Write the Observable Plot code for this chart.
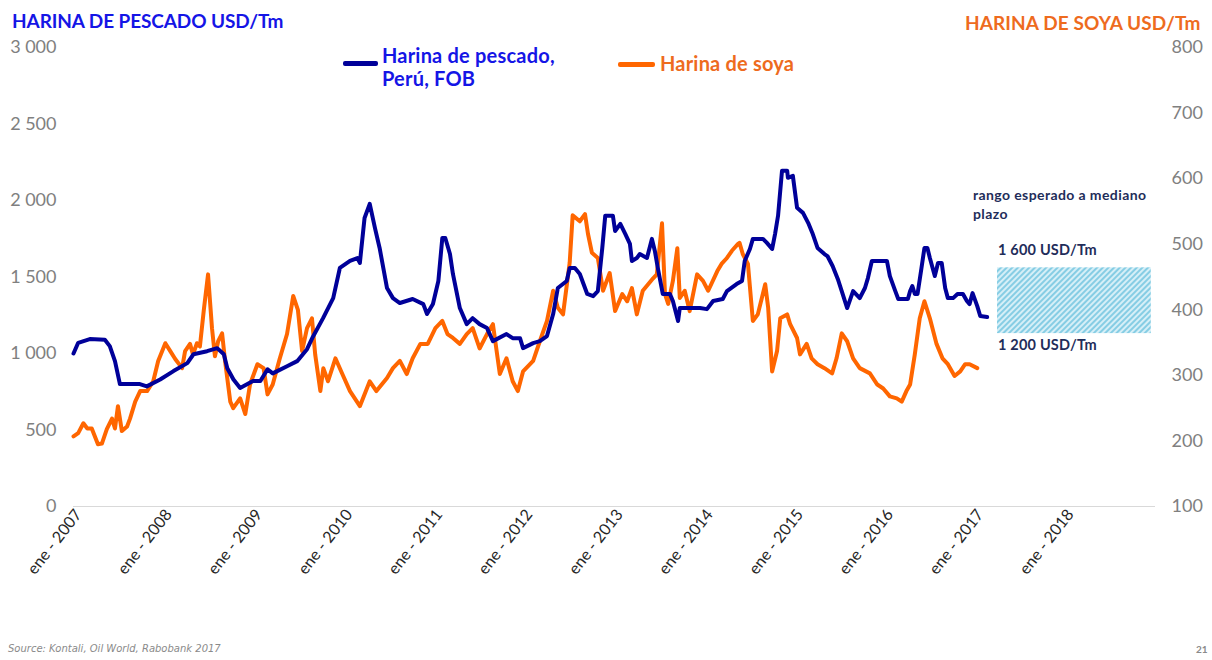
<!DOCTYPE html>
<html><head><meta charset="utf-8">
<script src="https://cdn.jsdelivr.net/npm/d3@7"></script>
<script src="https://cdn.jsdelivr.net/npm/@observablehq/plot@0.6"></script>
<style>
body{margin:0;background:#fff;font-family:Lato,"Open Sans",sans-serif;}
#wrap{position:relative;width:1212px;height:660px;overflow:hidden;background:#fff}
.t{position:absolute;white-space:nowrap;font-weight:bold;line-height:1}
</style></head><body><div id="wrap"><div id="chart"></div>
<div class="t" style="left:12px;top:11px;font-size:19px;letter-spacing:-0.1px;color:#1515E6">HARINA DE PESCADO USD/Tm</div>
<div class="t" style="left:965px;top:13px;font-size:19px;letter-spacing:0.1px;color:#EE6B1E">HARINA DE SOYA USD/Tm</div>
<div class="t" style="left:343px;top:61px;width:35px;height:5px;background:#000099;border-radius:2px"></div>
<div class="t" style="left:382px;top:44px;font-size:20px;line-height:23px;letter-spacing:0.2px;color:#1515E6">Harina de pescado,<br>Perú, FOB</div>
<div class="t" style="left:618px;top:62px;width:37px;height:5px;background:#FF6600;border-radius:2px"></div>
<div class="t" style="left:660px;top:53px;font-size:20px;letter-spacing:0.2px;color:#EE6B1E">Harina de soya</div>
<div class="t" style="left:973px;top:185px;font-size:14px;line-height:19px;letter-spacing:0.4px;color:#1F2D5A">rango esperado a mediano<br>plazo</div>
<div class="t" style="left:998px;top:243px;font-size:14.5px;letter-spacing:0.2px;color:#1F2D5A">1 600 USD/Tm</div>
<div class="t" style="left:998px;top:338px;font-size:14.5px;letter-spacing:0.2px;color:#1F2D5A">1 200 USD/Tm</div>
<div class="t" style="left:8px;top:644px;font-size:10px;font-family:'DejaVu Sans',sans-serif;font-weight:normal;font-style:italic;color:#8a8a8a">Source: Kontali, Oil World, Rabobank 2017</div>
<div class="t" style="left:1196px;top:644px;font-size:10px;color:#8a8a8a">21</div>
</div>
<script>
const fishDates = ["2007-01-01","2007-01-20","2007-03-08","2007-05-08","2007-05-28","2007-06-18","2007-07-08","2007-09-27","2007-10-25","2007-12-18",
"2008-02-10","2008-04-06","2008-05-01","2008-06-25","2008-08-05","2008-09-01","2008-09-15","2008-10-10","2008-11-06","2008-12-28",
"2009-01-27","2009-02-25","2009-03-18","2009-05-15","2009-06-25","2009-08-04","2009-08-28","2009-10-08","2009-11-18","2009-12-15",
"2010-01-25","2010-02-24","2010-03-06","2010-03-25","2010-04-15","2010-05-06","2010-05-25","2010-06-24","2010-07-18","2010-08-15",
"2010-10-06","2010-11-18","2010-12-03","2010-12-27","2011-01-18","2011-02-03","2011-02-15","2011-03-06","2011-03-18","2011-04-15",
"2011-05-13","2011-06-06","2011-07-04","2011-08-03","2011-08-27","2011-10-21","2011-11-15","2011-12-15","2011-12-27","2012-02-06",
"2012-03-04","2012-04-02","2012-04-27","2012-05-16","2012-06-21","2012-07-03","2012-07-24","2012-08-13","2012-09-12","2012-10-06",
"2012-10-25","2012-11-12","2012-11-24","2012-12-25","2013-01-03","2013-01-24","2013-02-13","2013-03-04","2013-03-12","2013-04-01",
"2013-04-13","2013-05-12","2013-06-01","2013-06-13","2013-06-25","2013-07-15","2013-08-13","2013-08-25","2013-09-15","2013-09-22",
"2013-12-13","2014-01-10","2014-02-04","2014-03-15","2014-04-01","2014-05-10","2014-06-01","2014-06-12","2014-07-03","2014-07-15",
"2014-08-25","2014-09-10","2014-10-01","2014-10-13","2014-10-25","2014-11-10","2014-12-01","2014-12-04","2014-12-24","2015-01-10",
"2015-02-03","2015-02-24","2015-03-13","2015-04-03","2015-05-01","2015-05-13","2015-06-03","2015-06-24","2015-07-10","2015-08-01",
"2015-08-25","2015-09-21","2015-10-12","2015-10-24","2015-11-09","2016-01-09","2016-01-21","2016-02-12","2016-02-24","2016-04-03",
"2016-04-12","2016-04-21","2016-05-01","2016-05-12","2016-05-28","2016-06-09","2016-06-21","2016-07-01","2016-07-21","2016-08-03",
"2016-08-18","2016-09-01","2016-09-12","2016-10-03","2016-10-21","2016-11-12","2016-11-28","2016-12-09","2016-12-21","2017-01-09",
"2017-01-21","2017-02-18"];
const fishValues = [1000,1070,1094,1090,1048,950,800,800,785,830,
885,937,995,1015,1035,995,904,830,775,820,
820,897,870,917,950,1028,1110,1231,1362,1559,
1605,1624,1592,1886,1978,1821,1690,1428,1362,1330,
1356,1323,1258,1323,1474,1755,1755,1650,1520,1297,
1192,1231,1192,1166,1081,1127,1100,1100,1035,1068,
1081,1114,1258,1428,1474,1559,1559,1520,1389,1375,
1408,1690,1900,1900,1801,1847,1782,1716,1605,1624,
1650,1624,1749,1670,1559,1389,1389,1343,1212,1297,
1297,1290,1343,1356,1408,1454,1474,1605,1683,1749,
1749,1723,1683,1782,1900,2194,2194,2148,2161,1952,
1919,1854,1788,1690,1650,1637,1572,1487,1408,1297,
1408,1362,1428,1493,1605,1605,1506,1408,1356,1356,
1408,1441,1389,1389,1559,1690,1690,1624,1506,1592,
1592,1428,1362,1362,1389,1389,1343,1323,1395,1310,
1245,1238];

const soyDates = ["2007-01-01","2007-01-20","2007-02-10","2007-02-26","2007-03-16","2007-04-10","2007-04-26","2007-05-16","2007-06-06","2007-06-18",
"2007-06-30","2007-07-16","2007-08-06","2007-08-18","2007-09-08","2007-09-28","2007-10-26","2007-11-20","2007-12-10","2008-01-08",
"2008-01-28","2008-02-17","2008-03-16","2008-03-28","2008-04-17","2008-04-29","2008-05-15","2008-05-27","2008-06-12","2008-06-29",
"2008-07-15","2008-07-27","2008-08-09","2008-08-25","2008-09-06","2008-09-27","2008-10-09","2008-11-06","2008-11-27","2008-12-16",
"2009-01-15","2009-02-09","2009-02-25","2009-03-18","2009-04-15","2009-05-15","2009-06-09","2009-06-28","2009-07-15","2009-08-04",
"2009-08-24","2009-09-06","2009-09-27","2009-10-09","2009-10-28","2009-11-27","2009-12-25","2010-01-25","2010-03-06","2010-04-15",
"2010-05-12","2010-06-24","2010-07-18","2010-08-15","2010-09-12","2010-10-06","2010-11-06","2010-12-06","2011-01-06","2011-02-03",
"2011-02-24","2011-03-18","2011-04-15","2011-05-13","2011-06-06","2011-07-04","2011-08-03","2011-08-27","2011-09-24","2011-10-21",
"2011-11-15","2011-12-06","2011-12-27","2012-02-06","2012-03-04","2012-04-02","2012-04-27","2012-05-16","2012-06-06","2012-07-03",
"2012-07-15","2012-08-13","2012-09-03","2012-09-15","2012-10-01","2012-10-25","2012-11-15","2012-12-12","2013-01-03","2013-02-01",
"2013-02-21","2013-03-12","2013-04-01","2013-04-25","2013-06-06","2013-06-21","2013-07-12","2013-07-24","2013-08-06","2013-08-25",
"2013-09-12","2013-09-22","2013-10-12","2013-11-01","2013-12-01","2013-12-25","2014-01-15","2014-02-21","2014-03-10","2014-04-01",
"2014-04-21","2014-05-15","2014-05-22","2014-06-04","2014-06-25","2014-07-15","2014-08-04","2014-09-03","2014-09-15","2014-10-01",
"2014-10-21","2014-11-03","2014-12-01","2014-12-13","2015-01-10","2015-01-22","2015-02-18","2015-03-10","2015-04-03","2015-05-01",
"2015-06-01","2015-06-19","2015-07-10","2015-08-01","2015-08-25","2015-09-21","2015-11-01","2015-12-01","2015-12-25","2016-01-21",
"2016-02-18","2016-03-09","2016-03-28","2016-04-12","2016-05-01","2016-05-21","2016-06-09","2016-07-01","2016-07-28","2016-08-21",
"2016-09-12","2016-10-09","2016-11-01","2016-11-21","2016-12-09","2017-01-09"];
const soyValues = [207,212,227,219,219,195,196,218,234,219,
253,215,222,234,260,276,276,291,322,349,
337,325,311,337,348,332,349,344,400,454,
372,329,352,364,322,260,250,265,241,286,
317,311,271,286,325,363,421,400,337,372,
387,332,276,311,291,326,302,276,253,291,
276,296,311,322,302,326,348,348,372,383,
363,357,348,363,372,341,363,378,302,326,
291,276,306,322,352,383,429,403,393,472,
544,535,546,516,487,479,429,456,398,424,
413,433,393,429,448,454,532,424,409,444,
494,418,429,398,454,444,429,459,470,479,
490,500,502,485,470,383,393,439,403,306,
337,387,393,378,357,332,348,326,317,311,
303,326,364,352,326,311,303,286,280,268,
265,260,276,286,332,387,413,387,348,326,
317,299,306,317,317,311];

const fishTicks = [0,500,1000,1500,2000,2500,3000];
const soyTicks = [100,200,300,400,500,600,700,800];
const yearTicks = [2007,2008,2009,2010,2011,2012,2013,2014,2015,2016,2017,2018];
const rangeStart = "2017-04-01", rangeEnd = "2018-12-15";
const rangeLow = 1130, rangeHigh = 1560;

const fishMin = 0, fishMax = 3000, soyMin = 100, soyMax = 800;
const toLeft = v => (v - soyMin) * (fishMax - fishMin) / (soyMax - soyMin);
const fromLeft = v => v * (soyMax - soyMin) / (fishMax - fishMin) + soyMin;
const fmt = d => d3.format(",")(Math.round(d)).replace(/,/g, " ");

const fish = fishDates.map((d, i) => ({date: new Date(d), value: fishValues[i]}));
const soy = soyDates.map((d, i) => ({date: new Date(d), value: soyValues[i]}));
const range = [{x1: new Date(rangeStart), x2: new Date(rangeEnd), y1: rangeLow, y2: rangeHigh}];

const chart = Plot.plot({
  width: 1212, height: 660,
  marginTop: 47, marginBottom: 154, marginLeft: 73, marginRight: 57,
  style: {fontFamily: "Lato, 'Open Sans', sans-serif", fontSize: "18px", background: "transparent"},
  x: {type: "utc", domain: [new Date("2007-01-01"), new Date("2019-01-01")]},
  y: {domain: [fishMin, fishMax]},
  marks: [
    Plot.ruleY([0], {stroke: "#d9d9d9", strokeWidth: 1}),
    Plot.rect(range, {x1: "x1", x2: "x2", y1: "y1", y2: "y2", fill: "url(#hatch)"}),
    Plot.line(soy, {x: "date", y: d => toLeft(d.value), stroke: "#FF6600", strokeWidth: 4}),
    Plot.line(fish, {x: "date", y: "value", stroke: "#000099", strokeWidth: 4}),
    Plot.axisY({anchor: "left", ticks: fishTicks, tickFormat: fmt, tickSize: 0, tickPadding: 17, color: "#808080", fontSize: 18, label: null}),
    Plot.axisY({anchor: "right", ticks: soyTicks.map(toLeft), tickFormat: d => fmt(fromLeft(d)), tickSize: 0, tickPadding: 16, color: "#808080", fontSize: 18, label: null}),
    Plot.axisX({ticks: yearTicks.map(y => new Date(`${y}-01-01`)), tickFormat: d => `ene - ${d.getUTCFullYear()}`, tickRotate: -52, tickSize: 0, tickPadding: 5, dx: 5, color: "#262626", fontSize: 16, label: null})
  ]
});

const ns = "http://www.w3.org/2000/svg";
const defs = document.createElementNS(ns, "defs");
const pat = document.createElementNS(ns, "pattern");
pat.setAttribute("id", "hatch");
pat.setAttribute("patternUnits", "userSpaceOnUse");
pat.setAttribute("width", "4");
pat.setAttribute("height", "4");
pat.setAttribute("patternTransform", "rotate(45)");
const bg = document.createElementNS(ns, "rect");
bg.setAttribute("width", "4"); bg.setAttribute("height", "4"); bg.setAttribute("fill", "#d6eff7");
const ln = document.createElementNS(ns, "line");
ln.setAttribute("x1", "1"); ln.setAttribute("y1", "0"); ln.setAttribute("x2", "1"); ln.setAttribute("y2", "4");
ln.setAttribute("stroke", "#86cde4"); ln.setAttribute("stroke-width", "2");
pat.appendChild(bg); pat.appendChild(ln); defs.appendChild(pat);
chart.insertBefore(defs, chart.firstChild);
chart.style.position = "absolute"; chart.style.left = "0"; chart.style.top = "0";
document.getElementById("chart").appendChild(chart);
</script>
</body></html>
